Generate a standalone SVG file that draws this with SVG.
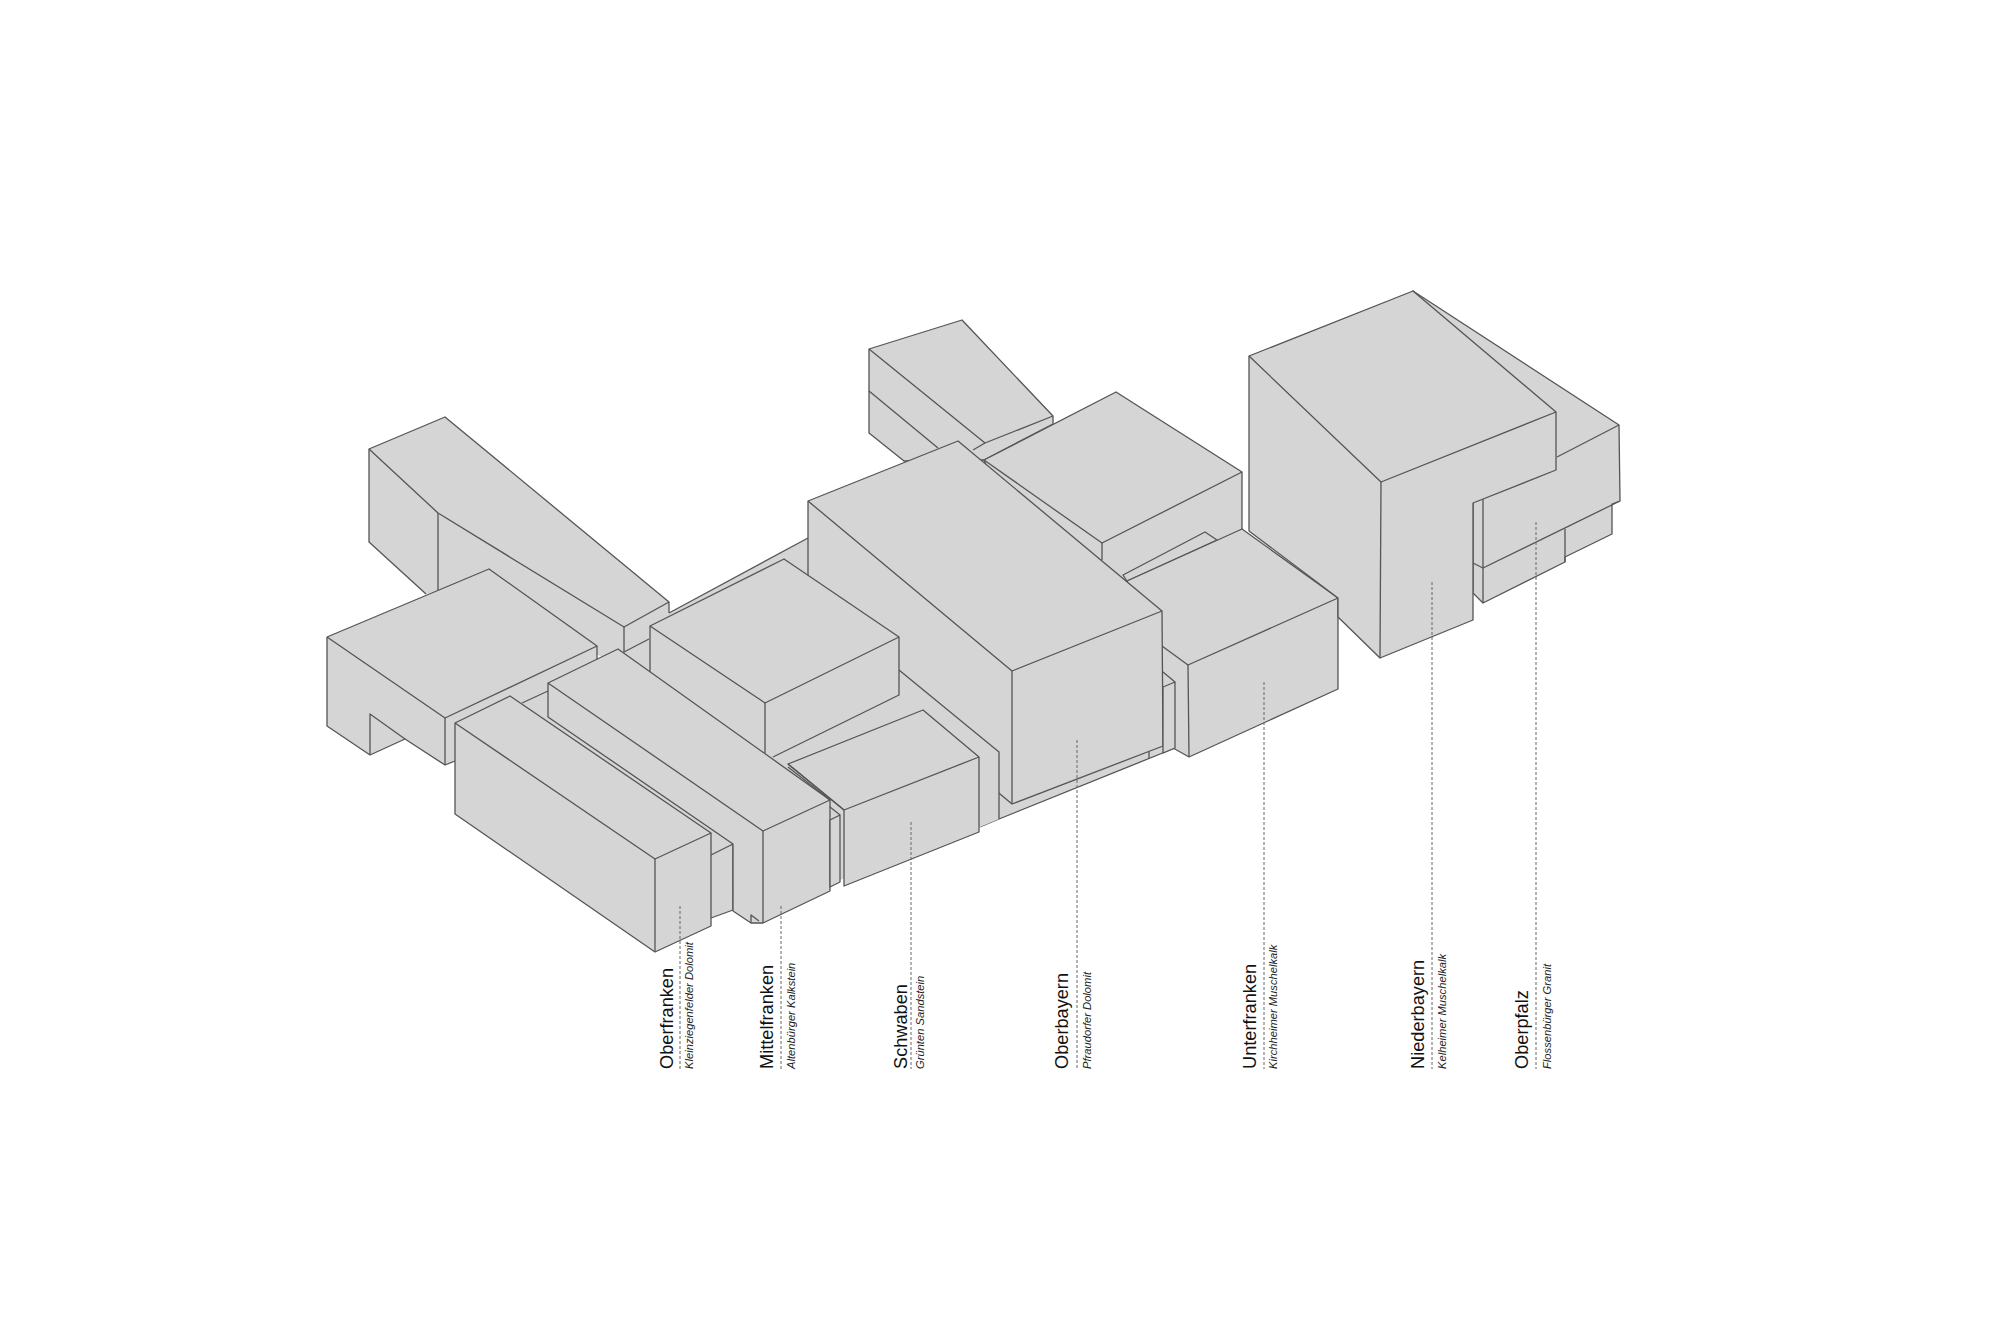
<svg xmlns="http://www.w3.org/2000/svg" width="2000" height="1332" viewBox="0 0 2000 1332">
<style>
.m{fill:#d5d5d5;stroke:#555;stroke-width:1.3;stroke-linejoin:round}
.f{fill:#d5d5d5;stroke:none}
.l{fill:none;stroke:#555;stroke-width:1.3;stroke-linejoin:round}
.d{fill:none;stroke:#666;stroke-width:1;stroke-dasharray:3 2}
.a{font:18.2px "Liberation Sans",Arial,sans-serif;fill:#111}
.b{font:italic 11.2px "Liberation Sans",Arial,sans-serif;fill:#222}
</style>
<rect width="2000" height="1332" fill="#fff"/>
<g id="ground">
<polygon class="f" points="669,613 808,538 1175,682 1175,748 999,819 980,827 840,880 790,840 700,760 560,720 522,703 548,691 623,652"/>
<polyline class="l" points="669,613 808,538"/>
<polyline class="l" points="1175,748 999,819 980,827"/>
</g>
<g id="back-left">
<polygon class="f" points="369,449 445,417 669,602 669,620 649,639 624,652 610,660 438,591 426,594 369,542"/>
<polyline class="l" points="669,613 669,602 445,417 369,449 369,542 426,594"/>
<polyline class="l" points="369,449 438,513 624,627 669,602"/>
<polyline class="l" points="438,513 438,591"/>
<polyline class="l" points="624,627 624,652 649,639"/>
</g>
<g id="flat-left">
<polygon class="f" points="327,637 489,569 597,646 597,659 548,685 510,702 455,761 445,765 405,739 370,755 327,726"/>
<polyline class="l" points="327,637 489,569 597,646 597,659"/>
<polyline class="l" points="327,637 327,726 370,755 405,739 445,765 455,761"/>
<polyline class="l" points="327,637 445,718 597,646"/>
<polyline class="l" points="445,718 445,765"/>
<polyline class="l" points="370,755 370,714 405,739"/>
</g>
<g id="back-top">
<polygon class="m" points="869,349 962,320 1053,416 1053,424 984,460 904,461 869,433"/>
<polyline class="l" points="869,349 985,443 1053,416"/>
<polyline class="l" points="869,391 938,448"/>
<polyline class="l" points="985,443 973,450"/>
</g>
<g id="rear-right">
<polygon class="m" points="984,460 1116,392 1242,472 1242,530 1130,600 1000,500"/>
<polyline class="l" points="984,460 1102,543 1242,472"/>
<polyline class="l" points="1102,543 1102,560"/>
<polygon class="m" points="1123,575 1205,532 1217,540 1127,581"/>
</g>
<g id="unterfranken">
<polygon class="m" points="1127,581 1242,529 1338,598 1338,689 1189,757 1150,735"/>
<polyline class="l" points="1140,630 1188,665 1338,598"/>
<polyline class="l" points="1188,665 1189,757"/>
</g>
<g id="oberbayern">
<polygon class="m" points="808,501 808,634 1012,804 1163,746 1162,611 958,441"/>
<polyline class="l" points="808,501 1012,671 1162,611"/>
<polyline class="l" points="1012,671 1012,804"/>
</g>
<g id="unterfranken-front">
<polygon class="m" points="1163,672 1175,682 1175,748 1163,753 1163,687 1175,682"/>
<polyline class="l" points="1149,752 1149,758"/>
</g>
<g id="schwaben-back">
<polygon class="f" points="899,670 999,752 999,819 980,827 900,800 860,730"/>
<polyline class="l" points="899,670 999,752 999,819"/>
</g>
<g id="cube">
<polygon class="f" points="650,626 784,559 899,637 899,695 773,760 765,760 650,680"/>
<polyline class="l" points="650,672 650,626 784,559 899,637 899,695 773,757"/>
<polyline class="l" points="650,626 765,703 899,637"/>
<polyline class="l" points="765,703 765,753"/>
</g>
<g id="oberfranken-back">
<polygon class="f" points="510,696 560,680 733,844 711,855 700,830"/>
<polygon class="f" points="711,833 733,844 733,910 711,918"/>
<polyline class="l" points="711,855 733,844 733,910 711,918"/>
</g>
<g id="mittelfranken">
<polygon class="m" points="548,683 618,649 830,800 830,891 763,923 751,923 733,911 733,844 548,717"/>
<polyline class="l" points="548,683 763,831 830,800"/>
<polyline class="l" points="763,831 763,923"/>
<polyline class="l" points="751,923 751,915 759,921"/>
<polyline class="l" points="522,703 548,691"/>
</g>
<g id="oberfranken">
<polygon class="m" points="455,723 510,696 711,833 711,926 655,952 455,814"/>
<polyline class="l" points="455,723 655,859 711,833"/>
<polyline class="l" points="655,859 655,952"/>
</g>
<g id="mid-sliver">
<polygon class="m" points="830,820 840,815 840,882 830,887"/>
<polyline class="l" points="830,807 840,815"/>
</g>
<g id="schwaben">
<polyline class="l" points="788,767 830,800"/>
<polygon class="m" points="788,764 923,710 979,757 979,832 844,886 844,810"/>
<polyline class="l" points="788,764 844,810 979,757"/>
</g>
<g id="oberpfalz">
<polygon class="m" points="1413,291 1619,425 1620,501 1612,504 1612,534 1565,557 1565,562 1483,603 1473,593 1473,503 1500,400"/>
<polyline class="l" points="1483,499 1483,603"/>
<polyline class="l" points="1473,563 1483,568 1620,501"/>
<polyline class="l" points="1557,457 1619,425"/>
<polyline class="l" points="1565,529 1565,562"/>
</g>
<g id="niederbayern">
<polygon class="m" points="1249,356 1413,291 1556,412 1556,470 1473,503 1473,620 1380,658 1338,617 1338,598 1249,531"/>
<polyline class="l" points="1249,356 1381,482 1556,412"/>
<polyline class="l" points="1381,482 1380,658"/>
</g>
<g id="connectors">
<path class="d" d="M680 906V1069M781 906V1069M911 822V1069M1077 740V1069M1264 682V1069M1432 582V1069M1536 522V1069"/>
</g>
<g id="labels">
<text class="a" transform="translate(672.500,1069) rotate(-90)">Oberfranken</text>
<text class="b" transform="translate(693,1069) rotate(-90)">Kleinziegenfelder Dolomit</text>
<text class="a" transform="translate(773,1069) rotate(-90)">Mittelfranken</text>
<text class="b" transform="translate(795,1069) rotate(-90)">Altenbürger Kalkstein</text>
<text class="a" transform="translate(907,1069) rotate(-90)">Schwaben</text>
<text class="b" transform="translate(924,1069) rotate(-90)">Grünten Sandstein</text>
<text class="a" transform="translate(1068,1069) rotate(-90)">Oberbayern</text>
<text class="b" transform="translate(1091,1069) rotate(-90)">Pfraudorfer Dolomit</text>
<text class="a" transform="translate(1256,1069) rotate(-90)">Unterfranken</text>
<text class="b" transform="translate(1277,1069) rotate(-90)">Kirchheimer Muschelkalk</text>
<text class="a" transform="translate(1424,1069) rotate(-90)">Niederbayern</text>
<text class="b" transform="translate(1446,1069) rotate(-90)">Kelheimer Muschelkalk</text>
<text class="a" transform="translate(1528,1069) rotate(-90)">Oberpfalz</text>
<text class="b" transform="translate(1551,1069) rotate(-90)">Flossenbürger Granit</text>
</g>
</svg>
